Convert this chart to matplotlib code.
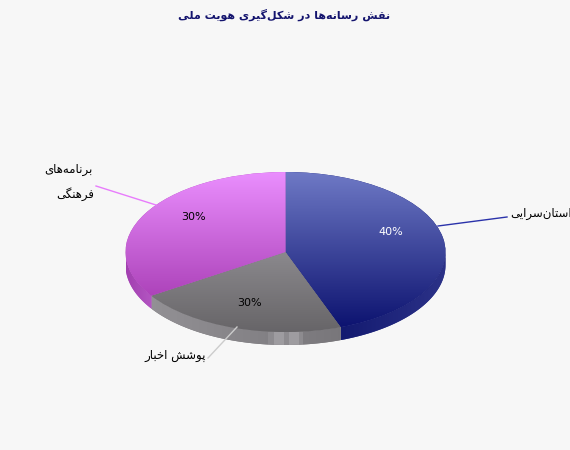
# pie of media roles, drawn flat with a fake 3d wall
import numpy as np
import matplotlib
matplotlib.use('Agg')
import matplotlib.pyplot as plt
from matplotlib.colors import LinearSegmentedColormap
from matplotlib.patches import Polygon

# slice sizes as drawn (they do not follow the printed percentages)
shares = [44.4, 21.4, 34.2]
pct_labels = ['40%', '30%', '30%']
title_fa = 'نقش رسانه‌ها در شکل‌گیری هویت ملی'
label_story = 'داستان‌سرایی'
label_news = 'پوشش اخبار'
label_culture = ['برنامه‌های', 'فرهنگی']
top_colors = [('#6f7ac6', '#0d1370'), ('#8b898d', '#676568'), ('#ea8efe', '#ad43ba')]
wall_colors = [('#131a70', '#2c3288'), ('#a3a1a5', '#747276'), ('#a23fb0', '#b356c2')]
line_colors = ['#2a32aa', '#cccccc', '#e87cfc']
bg = '#f7f7f7'

# matplotlib does no arabic shaping, so pick the presentation forms here
FORMS = {'ا': (0xFE8D, 0xFE8E), 'د': (0xFEA9, 0xFEAA), 'ر': (0xFEAD, 0xFEAE), 'و': (0xFEED, 0xFEEE),
         'ب': (0xFE8F, 0xFE90, 0xFE91, 0xFE92), 'پ': (0xFB56, 0xFB57, 0xFB58, 0xFB59),
         'ت': (0xFE95, 0xFE96, 0xFE97, 0xFE98), 'خ': (0xFEA5, 0xFEA6, 0xFEA7, 0xFEA8),
         'س': (0xFEB1, 0xFEB2, 0xFEB3, 0xFEB4), 'ش': (0xFEB5, 0xFEB6, 0xFEB7, 0xFEB8),
         'ف': (0xFED1, 0xFED2, 0xFED3, 0xFED4), 'ق': (0xFED5, 0xFED6, 0xFED7, 0xFED8),
         'ک': (0xFB8E, 0xFB8F, 0xFB90, 0xFB91), 'گ': (0xFB92, 0xFB93, 0xFB94, 0xFB95),
         'ل': (0xFEDD, 0xFEDE, 0xFEDF, 0xFEE0), 'م': (0xFEE1, 0xFEE2, 0xFEE3, 0xFEE4),
         'ن': (0xFEE5, 0xFEE6, 0xFEE7, 0xFEE8), 'ه': (0xFEE9, 0xFEEA, 0xFEEB, 0xFEEC),
         'ی': (0xFBFC, 0xFBFD, 0xFBFE, 0xFBFF)}

def shape(text):
    out = []
    for i, ch in enumerate(text):
        if ch not in FORMS:
            if ch != '\u200c':
                out.append(ch)
            continue
        prev = text[i - 1] if i > 0 else ' '
        nxt = text[i + 1] if i + 1 < len(text) else ' '
        joins_prev = prev in FORMS and len(FORMS[prev]) == 4
        joins_next = nxt in FORMS and len(FORMS[ch]) == 4
        if joins_prev and joins_next:
            code = FORMS[ch][3]
        elif joins_next:
            code = FORMS[ch][2]
        elif joins_prev:
            code = FORMS[ch][1]
        else:
            code = FORMS[ch][0]
        out.append(chr(code))
    return ''.join(out[::-1])

def fill_gradient(ax, patch, colors, extent, vertical=True, values=None):
    cmap = LinearSegmentedColormap.from_list('g', colors)
    if values is None:
        values = np.linspace(0, 1, 256)
    img = values.reshape(-1, 1) if vertical else values.reshape(1, -1)
    im = ax.imshow(img, cmap=cmap, vmin=0, vmax=1, extent=extent, origin='upper',
                   aspect='auto', interpolation='nearest', zorder=patch.get_zorder() + 0.1)
    im.set_clip_path(patch)

W, H = 570, 450
depth = 13 / 80
fig = plt.figure(figsize=(W / 100, H / 100), dpi=100, facecolor=bg)
# pie axes holds the top ellipse (320x160 px) plus the wall below it
ax = fig.add_axes([125.5 / W, (H - 345) / H, 320 / W, 173 / H])
ax.patch.set_visible(False)

wedges, _ = ax.pie(shares, startangle=90, counterclock=False, radius=1, center=(0, 0))
ax.set_aspect('auto')
ax.set_xlim(-1, 1)
ax.set_ylim(-1 - depth, 1)

# side wall, only the part of each slice on the front half
edges = np.cumsum([0] + shares) / 100 * 360
for i in range(3):
    a0, a1 = max(edges[i], 90), min(edges[i + 1], 270)
    th = np.radians(np.linspace(a0, a1, 80))
    xs, ys = np.sin(th), np.cos(th)
    pts = np.r_[np.c_[xs, ys], np.c_[xs, ys - depth][::-1]]
    wall = Polygon(pts, closed=True, fc=wall_colors[i][1], ec='none', zorder=1)
    ax.add_patch(wall)
    x0, x1 = xs.min(), xs.max()
    vals = None
    if i == 1:
        # light reflection strip on the grey wall
        xpx = np.linspace(x0, x1, 400)
        vals = 0.35 + (xpx - x0) / (x1 - x0) * 0.55
        px = (xpx + 1) * 160
        vals = np.where((px > 143) & (px < 178), 0.45, vals)
        vals = np.where((px > 148) & (px < 158), 0.1, vals)
        vals = np.where((px > 163) & (px < 173), 0.1, vals)
    fill_gradient(ax, wall, wall_colors[i], (x0, x1, -1 - depth, 1), vertical=False, values=vals)

# top faces, gradient runs from the top to the bottom of each slice
for i, w in enumerate(wedges):
    w.set_zorder(2)
    w.set_edgecolor('none')
    w.set_facecolor(top_colors[i][1])
    box = w.get_path().transformed(w.get_transform() + ax.transData.inverted()).get_extents()
    fill_gradient(ax, w, top_colors[i], (-1, 1, box.ymin, box.ymax))
ax.set_xlim(-1, 1)
ax.set_ylim(-1 - depth, 1)
ax.axis('off')

# overlay in pixel units for leader lines and text
top = fig.add_axes([0, 0, 1, 1])
top.set_xlim(0, W)
top.set_ylim(H, 0)
top.axis('off')
top.plot([438, 507], [226, 217], color=line_colors[0], lw=1)
top.plot([237, 208], [327, 358], color=line_colors[1], lw=1)
top.plot([96, 156], [186, 205], color=line_colors[2], lw=1)

fs = 8.5
top.text(284, 15, shape(title_fa), color='#14146e', fontsize=8, fontweight='bold', ha='center', va='center')
top.text(510, 213, shape(label_story), fontsize=fs, ha='left', va='center', color='black')
top.text(206, 355, shape(label_news), fontsize=fs, ha='right', va='center', color='black')
top.text(93, 170, shape(label_culture[0]), fontsize=fs, ha='right', va='center', color='black')
top.text(94, 194, shape(label_culture[1]), fontsize=fs, ha='right', va='center', color='black')
top.text(391, 232, pct_labels[0], fontsize=8, ha='center', va='center', color='white')
top.text(250, 303, pct_labels[1], fontsize=8, ha='center', va='center', color='black')
top.text(194, 217, pct_labels[2], fontsize=8, ha='center', va='center', color='black')

fig.savefig('out.png', dpi=100, facecolor=bg)
